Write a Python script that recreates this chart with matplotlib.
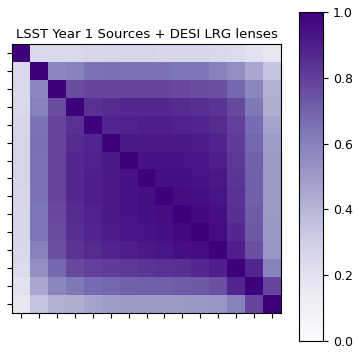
import numpy as np
import matplotlib
matplotlib.use("Agg")
import matplotlib.pyplot as plt

title = "LSST Year 1 Sources + DESI LRG lenses"
cbar_ticks = [0.0, 0.2, 0.4, 0.6, 0.8, 1.0]

# upper-triangle correlation values (row i, columns i..14)
r0 = [1.0, 0.25, 0.25, 0.25, 0.26, 0.27, 0.27, 0.27, 0.26, 0.26, 0.26, 0.25, 0.24, 0.20, 0.17]
r1 = [1.0, 0.58, 0.60, 0.65, 0.66, 0.65, 0.65, 0.65, 0.64, 0.64, 0.60, 0.55, 0.45, 0.35]
r2 = [1.0, 0.76, 0.78, 0.78, 0.78, 0.78, 0.78, 0.77, 0.76, 0.75, 0.68, 0.58, 0.42]
r3 = [1.0, 0.84, 0.86, 0.87, 0.87, 0.87, 0.86, 0.85, 0.83, 0.77, 0.63, 0.43]
r4 = [1.0, 0.88, 0.89, 0.90, 0.90, 0.89, 0.88, 0.86, 0.80, 0.67, 0.47]
r5 = [1.0, 0.92, 0.92, 0.92, 0.92, 0.91, 0.89, 0.81, 0.69, 0.49]
r6 = [1.0, 0.94, 0.94, 0.94, 0.93, 0.90, 0.82, 0.70, 0.50]
r7 = [1.0, 0.95, 0.95, 0.94, 0.92, 0.83, 0.71, 0.50]
r8 = [1.0, 0.96, 0.95, 0.93, 0.84, 0.71, 0.50]
r9 = [1.0, 0.97, 0.95, 0.85, 0.72, 0.50]
r10 = [1.0, 0.96, 0.87, 0.73, 0.51]
r11 = [1.0, 0.90, 0.75, 0.52]
r12 = [1.0, 0.88, 0.60]
r13 = [1.0, 0.78]
r14 = [1.0]
rows = [r0, r1, r2, r3, r4, r5, r6, r7, r8, r9, r10, r11, r12, r13, r14]

n = len(rows)
M = np.zeros((n, n))
for i, r in enumerate(rows):
    for k, v in enumerate(r):
        M[i, i + k] = v
        M[i + k, i] = v

W = H = 357
fig = plt.figure(figsize=(W / 100, H / 100), dpi=100)
ax = fig.add_axes([12 / W, 1 - 313 / H, 269 / W, 269 / H])
im = ax.imshow(M, cmap="Purples", vmin=0, vmax=1, aspect="auto")
ax.set_xticks(np.arange(n))
ax.set_yticks(np.arange(n))
ax.set_xticklabels([])
ax.set_yticklabels([])
ax.set_title(title, fontsize=9.5, pad=4)
cax = fig.add_axes([299 / W, 1 - 341 / H, 24 / W, 329 / H])
cb = fig.colorbar(im, cax=cax, ticks=cbar_ticks)
cb.ax.tick_params(labelsize=9)
fig.savefig("out.png", dpi=100)
